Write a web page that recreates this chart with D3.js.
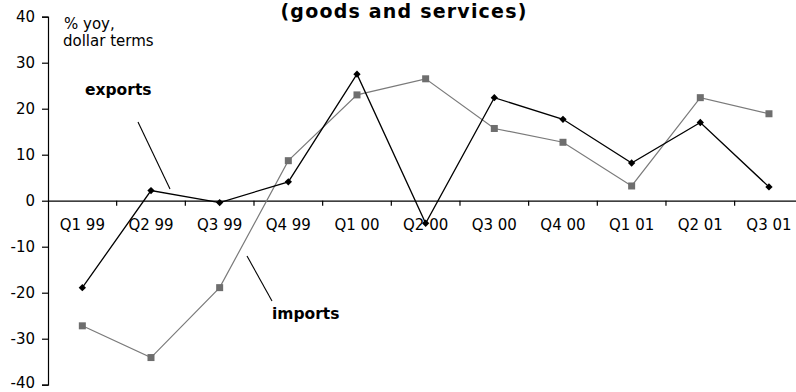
<!DOCTYPE html>
<html>
<head>
<meta charset="utf-8">
<script src="https://cdn.jsdelivr.net/npm/d3@7/dist/d3.min.js"></script>
<style>
  html, body { margin: 0; padding: 0; background: #fff; }
  svg { display: block; font-family: "DejaVu Sans", Verdana, sans-serif; }
</style>
</head>
<body>
<svg id="chart" width="796" height="392"></svg>
<script>
// Quarterly year-on-year growth, dollar terms
const quarters = ["Q1 99", "Q2 99", "Q3 99", "Q4 99", "Q1 00", "Q2 00",
                  "Q3 00", "Q4 00", "Q1 01", "Q2 01", "Q3 01"];
const exportsYoy = [-18.9, 2.2, -0.4, 4.1, 27.5, -4.9, 22.4, 17.7, 8.2, 17.0, 3.0];
const importsYoy = [-27.2, -34.1, -18.9, 8.7, 23.0, 26.5, 15.7, 12.7, 3.2, 22.4, 18.9];
const yTicks = [-40, -30, -20, -10, 0, 10, 20, 30, 40];

const svg = d3.select("#chart");
const FONT = "DejaVu Sans, Verdana, sans-serif";

const x = d3.scaleBand().domain(quarters).range([48, 803.3]).padding(0);
const y = d3.scaleLinear().domain([-40, 40]).range([384.7, 16.7]);
const cx = q => x(q) + x.bandwidth() / 2;

// Title (second line)
svg.append("text")
  .attr("x", 404).attr("y", 18)
  .attr("text-anchor", "middle")
  .attr("font-weight", "bold")
  .attr("font-size", 19)
  .attr("letter-spacing", 1.2)
  .attr("fill", "#000")
  .text("(goods and services)");

// Y axis
const yAxis = svg.append("g")
  .attr("transform", "translate(48,0)")
  .call(d3.axisLeft(y).tickValues(yTicks).tickSize(6).tickPadding(7).tickFormat(d => String(d)));
yAxis.select(".domain").attr("stroke", "#000").attr("stroke-width", 1.2);
yAxis.selectAll(".tick line").attr("stroke", "#000").attr("stroke-width", 1.2);
yAxis.selectAll(".tick text")
  .attr("font-size", 15).attr("font-family", FONT).attr("fill", "#000")
  .attr("dy", d => d === -40 ? "0.2em" : "0.32em");

// X axis along the zero line, labels centred in each quarter
const xAxis = svg.append("g")
  .attr("transform", `translate(0,${y(0)})`)
  .call(d3.axisBottom(x).tickSize(0).tickSizeOuter(0));
xAxis.select(".domain").attr("stroke", "#000").attr("stroke-width", 1.2);
xAxis.selectAll(".tick text")
  .attr("y", 29.3).attr("dy", null)
  .attr("font-size", 15).attr("font-family", FONT).attr("fill", "#000");

// Tick marks between quarters
xAxis.selectAll("line.sep")
  .data(quarters.slice(1))
  .join("line")
  .attr("class", "sep")
  .attr("x1", d => x(d)).attr("x2", d => x(d))
  .attr("y1", 0).attr("y2", 5)
  .attr("stroke", "#000").attr("stroke-width", 1.2);

// Unit note
svg.append("text").attr("x", 64).attr("y", 29)
  .attr("font-size", 15).attr("fill", "#000").text("% yoy,");
svg.append("text").attr("x", 63).attr("y", 46)
  .attr("font-size", 15).attr("fill", "#000").text("dollar terms");

const line = d3.line().x((d, i) => cx(quarters[i])).y(d => y(d));

// Imports series
svg.append("path")
  .datum(importsYoy)
  .attr("fill", "none").attr("stroke", "#7a7a7a").attr("stroke-width", 1.2)
  .attr("d", line);
svg.selectAll("rect.imp")
  .data(importsYoy)
  .join("rect")
  .attr("class", "imp")
  .attr("x", (d, i) => cx(quarters[i]) - 3.5)
  .attr("y", d => y(d) - 3.5)
  .attr("width", 7).attr("height", 7)
  .attr("fill", "#6e6e6e");

// Exports series
svg.append("path")
  .datum(exportsYoy)
  .attr("fill", "none").attr("stroke", "#000").attr("stroke-width", 1.3)
  .attr("d", line);
svg.selectAll("path.exp")
  .data(exportsYoy)
  .join("path")
  .attr("class", "exp")
  .attr("transform", (d, i) => `translate(${cx(quarters[i])},${y(d)})`)
  .attr("d", d3.symbol(d3.symbolDiamond2, 34)())
  .attr("fill", "#000");

// Series labels with leader lines
svg.append("text").attr("x", 85).attr("y", 95)
  .attr("font-size", 15.5).attr("font-weight", "bold").attr("fill", "#000").text("exports");
svg.append("line").attr("x1", 138).attr("y1", 122).attr("x2", 170).attr("y2", 189)
  .attr("stroke", "#000").attr("stroke-width", 1.1);

svg.append("text").attr("x", 272).attr("y", 319)
  .attr("font-size", 15.5).attr("font-weight", "bold").attr("fill", "#000").text("imports");
svg.append("line").attr("x1", 247).attr("y1", 256).attr("x2", 272).attr("y2", 301)
  .attr("stroke", "#000").attr("stroke-width", 1.1);
</script>
</body>
</html>
